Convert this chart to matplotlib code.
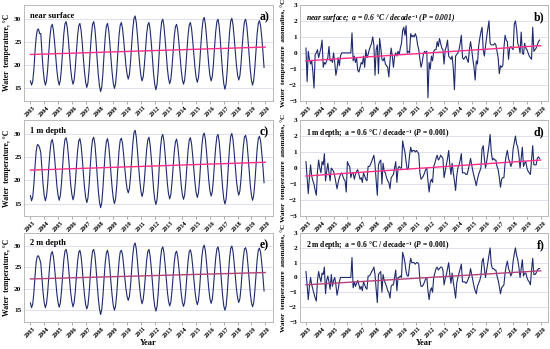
import numpy as np
import matplotlib.pyplot as plt

plt.rcParams['font.family'] = ['Liberation Serif', 'DejaVu Serif']
plt.rcParams['font.weight'] = 'bold'
plt.rcParams['mathtext.fontset'] = 'custom'
plt.rcParams['mathtext.rm'] = 'Liberation Serif:bold'
plt.rcParams['mathtext.it'] = 'Liberation Serif:italic:bold'
plt.rcParams['mathtext.default'] = 'rm'

# monthly values, Jan 2003 .. Dec 2019 (one row per year)
temp_surface = [
    16.6, 15.7, 16.5, 19.0, 23.0, 26.0, 27.6, 27.8, 26.8, 26.8, 22.8, 19.2,  # 2003
    16.8, 15.7, 16.6, 19.2, 22.9, 26.2, 28.3, 28.8, 27.5, 24.9, 21.7, 18.8,  # 2004
    16.8, 15.7, 16.7, 19.4, 23.2, 26.7, 28.9, 29.4, 28.1, 25.4, 22.1, 19.1,  # 2005
    17.0, 15.9, 16.8, 19.4, 23.1, 26.4, 28.5, 29.0, 27.6, 24.9, 21.5, 18.5,  # 2006
    16.3, 15.2, 16.2, 19.0, 23.0, 26.6, 28.8, 29.4, 27.9, 24.9, 21.2, 17.9,  # 2007
    15.5, 14.3, 15.3, 18.3, 22.4, 26.1, 28.4, 29.0, 27.6, 24.8, 21.4, 18.4,  # 2008
    16.1, 15.0, 16.0, 18.8, 22.8, 26.4, 28.6, 29.2, 28.0, 25.5, 22.6, 19.9,  # 2009
    18.0, 17.0, 18.0, 20.7, 24.5, 27.9, 30.1, 30.6, 29.2, 26.4, 23.0, 20.0,  # 2010
    17.7, 16.6, 17.5, 20.0, 23.5, 26.7, 28.7, 29.2, 27.7, 24.9, 21.4, 18.2,  # 2011
    15.9, 14.7, 15.8, 18.8, 23.1, 26.9, 29.3, 29.9, 28.5, 25.7, 22.4, 19.3,  # 2012
    17.1, 16.0, 16.9, 19.5, 23.0, 26.2, 28.3, 28.8, 27.5, 24.9, 21.8, 19.0,  # 2013
    16.9, 15.9, 16.8, 19.5, 23.2, 26.5, 28.7, 29.2, 27.9, 25.3, 22.2, 19.4,  # 2014
    17.3, 16.3, 17.3, 20.1, 24.0, 27.5, 29.7, 30.3, 28.9, 26.2, 22.9, 19.9,  # 2015
    17.7, 16.6, 17.5, 20.2, 23.9, 27.2, 29.4, 29.9, 28.4, 25.4, 21.7, 18.4,  # 2016
    16.0, 14.8, 15.9, 18.9, 23.2, 27.0, 29.5, 30.1, 28.8, 26.1, 22.9, 20.0,  # 2017
    17.9, 16.8, 17.7, 20.3, 24.0, 27.3, 29.4, 29.9, 28.5, 25.6, 22.2, 19.1,  # 2018
    16.8, 15.7, 16.7, 19.5, 23.3, 26.8, 29.0, 29.6, 28.5, 26.0, 23.0, 19.5,  # 2019
]

temp_1m = [
    16.7, 15.6, 16.4, 19.1, 23.0, 26.3, 27.7, 27.6, 27.0, 26.0, 22.6, 19.1,  # 2003
    16.7, 15.6, 16.6, 19.2, 22.9, 26.2, 28.3, 28.8, 27.5, 24.9, 21.7, 18.8,  # 2004
    16.8, 15.7, 16.7, 19.4, 23.2, 26.7, 28.8, 29.2, 28.0, 25.4, 22.1, 19.1,  # 2005
    17.0, 15.8, 16.8, 19.4, 23.1, 26.4, 28.5, 29.0, 27.6, 24.9, 21.5, 18.5,  # 2006
    16.3, 15.2, 16.2, 19.0, 23.0, 26.6, 28.8, 29.3, 27.9, 24.9, 21.1, 17.8,  # 2007
    15.3, 14.1, 15.2, 18.3, 22.4, 26.1, 28.4, 29.0, 27.6, 24.8, 21.4, 18.4,  # 2008
    16.1, 15.0, 16.0, 18.8, 22.8, 26.4, 28.6, 29.1, 28.0, 25.5, 22.6, 20.0,  # 2009
    18.2, 17.3, 18.2, 20.8, 24.6, 28.0, 30.3, 30.8, 29.3, 26.4, 23.0, 20.0,  # 2010
    17.7, 16.5, 17.5, 20.0, 23.5, 26.7, 28.7, 29.3, 27.7, 24.9, 21.4, 18.2,  # 2011
    15.9, 14.8, 15.8, 18.8, 23.1, 26.9, 29.3, 29.9, 28.5, 25.7, 22.4, 19.3,  # 2012
    17.1, 16.0, 16.9, 19.5, 23.0, 26.2, 28.3, 28.9, 27.5, 24.9, 21.8, 19.0,  # 2013
    16.9, 15.9, 16.8, 19.5, 23.2, 26.5, 28.7, 29.2, 27.9, 25.3, 22.2, 19.4,  # 2014
    17.3, 16.3, 17.3, 20.1, 24.0, 27.5, 29.7, 30.2, 28.9, 26.2, 22.9, 19.9,  # 2015
    17.7, 16.6, 17.5, 20.2, 23.9, 27.2, 29.4, 29.9, 28.4, 25.4, 21.7, 18.4,  # 2016
    16.0, 14.9, 15.9, 18.9, 23.2, 27.0, 29.5, 30.1, 28.8, 26.1, 22.9, 20.0,  # 2017
    17.9, 16.8, 17.7, 20.3, 24.0, 27.3, 29.4, 29.7, 28.5, 25.6, 22.2, 19.1,  # 2018
    16.8, 15.7, 16.7, 19.5, 23.3, 26.8, 29.0, 29.5, 28.5, 26.0, 23.0, 19.5,  # 2019
]

temp_2m = [
    16.7, 15.6, 16.4, 19.1, 23.0, 26.3, 27.6, 27.7, 27.0, 26.0, 22.6, 19.1,  # 2003
    16.7, 15.6, 16.6, 19.2, 22.9, 26.2, 28.2, 28.7, 27.5, 24.9, 21.7, 18.8,  # 2004
    16.8, 15.7, 16.7, 19.4, 23.2, 26.7, 28.8, 29.2, 28.0, 25.4, 22.1, 19.1,  # 2005
    17.0, 15.8, 16.8, 19.4, 23.1, 26.4, 28.5, 29.0, 27.6, 24.9, 21.5, 18.5,  # 2006
    16.3, 15.3, 16.2, 19.0, 23.0, 26.6, 28.8, 29.2, 27.9, 24.9, 21.1, 17.8,  # 2007
    15.3, 14.0, 15.2, 18.3, 22.4, 26.1, 28.4, 29.0, 27.6, 24.8, 21.4, 18.4,  # 2008
    16.1, 15.0, 16.0, 18.8, 22.8, 26.4, 28.6, 29.0, 28.0, 25.5, 22.6, 20.0,  # 2009
    18.2, 17.3, 18.2, 20.8, 24.6, 28.0, 30.2, 30.7, 29.3, 26.4, 23.0, 20.0,  # 2010
    17.7, 16.5, 17.5, 20.0, 23.5, 26.7, 28.7, 29.2, 27.7, 24.9, 21.4, 18.2,  # 2011
    15.9, 14.8, 15.8, 18.8, 23.1, 26.9, 29.2, 29.8, 28.5, 25.7, 22.4, 19.3,  # 2012
    17.1, 16.0, 16.9, 19.5, 23.0, 26.2, 28.3, 28.8, 27.5, 24.9, 21.8, 19.0,  # 2013
    16.9, 15.9, 16.8, 19.5, 23.2, 26.5, 28.7, 29.1, 27.9, 25.3, 22.2, 19.4,  # 2014
    17.3, 16.3, 17.3, 20.1, 24.0, 27.5, 29.6, 30.2, 28.9, 26.2, 22.9, 19.9,  # 2015
    17.7, 16.6, 17.5, 20.2, 23.9, 27.2, 29.3, 29.8, 28.4, 25.4, 21.7, 18.4,  # 2016
    16.0, 15.0, 15.9, 18.9, 23.2, 27.0, 29.4, 30.0, 28.8, 26.1, 22.9, 20.0,  # 2017
    17.9, 16.8, 17.7, 20.3, 24.0, 27.3, 29.3, 29.6, 28.5, 25.6, 22.2, 19.1,  # 2018
    16.8, 15.8, 16.7, 19.5, 23.3, 26.8, 29.0, 29.5, 28.5, 26.0, 23.0, 19.5,  # 2019
]

anom_surface = [
    0.3, -1.8, 0.1, -0.4, -0.7, -0.5, -1.2, -2.2, -0.1, 0.0, 0.2, -0.3,  # 2003
    0.0, 0.3, 0.8, -0.9, -0.6, -0.7, -0.5, -0.3, 0.4, -0.5, -0.4, -0.6,  # 2004
    0.0, -0.6, -1.4, -1.0, -0.3, -0.8, -0.2, 0.0, 0.0, 0.0, 0.0, 0.0,  # 2005
    0.0, 0.0, 0.0, 0.0, 1.25, -0.5, -0.2, -0.6, -0.3, -1.1, -1.2, -0.9,  # 2006
    -0.6, -0.7, -0.2, -0.9, 0.2, -0.3, -0.1, 0.2, 0.4, 0.6, 1.0, 0.5,  # 2007
    -1.4, 0.2, 0.5, -1.3, 0.9, 0.3, -0.4, -0.5, -0.3, -0.7, -0.8, -0.9,  # 2008
    -1.5, -0.5, 0.3, -0.2, -0.9, -0.2, 0.0, -0.2, 0.1, -0.1, 0.3, 0.6,  # 2009
    1.4, 1.6, 1.1, 1.7, 0.0, 0.1, 0.0, 1.2, 1.0, 1.1, 1.0, 1.2,  # 2010
    1.0, 0.5, 0.2, -0.4, -0.9, -0.6, -0.1, 0.1, 0.0, 0.1, -2.8, -0.6,  # 2011
    -1.0, -0.2, -0.5, 0.1, 0.2, 0.2, 0.7, 0.4, 0.9, 0.6, 0.3, 0.2,  # 2012
    -0.7, 0.2, 0.4, 0.8, -0.2, -0.3, -0.4, -0.2, -1.0, -2.3, -0.2, -0.1,  # 2013
    0.0, 0.2, 0.6, 1.1, -0.3, -0.4, -0.3, -0.2, -0.4, -0.6, 0.2, 0.7,  # 2014
    0.2, -0.4, -0.9, -1.7, -0.5, -0.7, 0.4, 0.9, 1.3, 1.6, 0.2, -0.2,  # 2015
    0.4, 1.0, 1.5, 2.0, 0.6, 0.5, 0.5, 0.5, 0.6, 0.5, 0.1, -0.3,  # 2016
    -1.3, -0.8, -0.9, -0.8, 0.3, 1.1, 0.8, 0.7, -0.4, 0.3, 0.4, 0.3,  # 2017
    0.2, 1.8, 2.0, 1.5, 0.6, 0.4, 0.0, 1.3, 0.0, -0.1, 0.6, 0.3,  # 2018
    0.2, 0.0, -0.2, -0.3, -0.4, 1.6, 0.1, 0.2, 0.3, 0.5, 0.7, 0.8,  # 2019
]

anom_1m = [
    0.4, -0.6, -1.6, -0.6, 0.2, -0.5, -0.8, -1.0, -1.4, -1.7, -0.2, 0.5,  # 2003
    0.0, -0.3, 0.4, 0.2, 0.9, -0.8, -0.2, 0.3, -0.3, -0.8, 0.0, -0.1,  # 2004
    -0.2, -0.5, -0.9, -1.3, -0.9, -0.6, -0.4, -0.3, -0.5, -0.7, -0.8, -1.5,  # 2005
    0.4, 0.2, 0.1, -0.6, -0.3, -0.3, -0.7, -0.4, -0.2, -0.1, -0.4, -0.7,  # 2006
    -0.6, -0.9, -0.3, -0.5, -0.7, -0.8, 0.1, 0.1, 0.2, 0.4, 0.6, 0.8,  # 2007
    0.2, -0.8, -1.7, 0.2, 0.4, 0.5, -1.0, 0.3, -0.2, -0.3, -0.6, -0.8,  # 2008
    -0.9, -1.3, -0.6, -0.5, -0.4, 0.0, 0.4, -0.9, 0.0, 0.1, 0.0, 0.0,  # 2009
    1.7, 1.3, 1.0, 0.4, -0.1, 0.0, 0.8, 1.3, 1.0, 1.1, 1.1, 1.0,  # 2010
    1.1, 1.0, 0.9, -0.3, -0.7, -0.6, -0.5, -0.3, -0.1, 0.0, -0.8, -1.5,  # 2011
    -0.9, -0.7, -0.9, 0.1, 0.3, 0.6, 0.8, 0.5, 0.6, 0.8, 0.7, 0.6,  # 2012
    -0.6, -0.2, 0.2, 0.6, 1.1, 0.2, -0.4, 0.3, -0.3, -0.8, -1.4, -0.5,  # 2013
    0.0, 0.2, 0.5, 0.9, -0.3, -0.3, -0.3, -0.4, -0.4, -0.1, 0.2, 0.6,  # 2014
    0.2, -0.2, -0.5, -0.8, -1.1, -0.7, -0.4, -0.2, 0.0, 1.2, 1.4, 0.6,  # 2015
    0.0, 0.4, 0.9, 1.4, 2.1, 1.0, 0.5, 0.6, 0.5, 0.5, 0.1, -0.1,  # 2016
    -0.6, -1.2, -0.7, -0.6, -0.6, 0.3, 0.8, 1.1, 0.6, 0.4, 0.1, 0.3,  # 2017
    1.2, 1.6, 2.0, 1.5, 1.3, 0.8, 0.0, 0.6, 1.3, 0.1, 0.3, 0.4,  # 2018
    0.0, -0.2, -0.3, -0.4, 0.5, 1.4, 0.2, 0.2, 0.2, 0.6, 0.7, 0.6,  # 2019
]

anom_2m = [
    0.4, -0.5, -1.5, -0.6, 0.0, -0.5, -0.8, -1.1, -1.4, -1.6, -0.2, 0.4,  # 2003
    0.0, -0.3, 0.3, 0.2, 0.7, -1.1, -0.2, 0.1, -0.3, -0.8, 0.2, -0.6,  # 2004
    -0.2, 0.0, -0.5, -1.2, -0.8, -0.3, 0.0, 0.0, 0.0, 0.0, 0.0, 0.0,  # 2005
    0.0, 0.0, 0.0, 0.0, 1.35, -0.7, -0.3, -0.6, -0.4, -0.2, -0.5, -0.8,  # 2006
    -0.6, -0.9, -0.3, -0.5, -0.7, -0.8, 0.1, 0.1, 0.2, 0.4, 0.5, 0.7,  # 2007
    0.2, -0.8, -1.7, 0.2, 0.3, 0.4, -1.0, 0.2, -0.2, -0.4, -0.6, -0.9,  # 2008
    -1.0, -1.4, -0.6, -0.5, -0.5, 0.0, 0.5, -0.9, 0.0, 0.0, 0.1, 0.0,  # 2009
    1.7, 1.4, 1.0, 0.4, 0.1, 0.1, 0.8, 1.3, 1.0, 1.0, 1.0, 0.9,  # 2010
    1.0, 1.0, 0.9, -0.2, -0.6, -0.6, -0.5, -0.3, -0.1, 0.0, -0.9, -1.5,  # 2011
    -0.9, -0.7, -1.0, 0.0, 0.3, 0.6, 0.7, 0.5, 0.6, 0.7, 0.7, 0.5,  # 2012
    -0.5, -0.1, 0.2, 0.6, 1.0, 0.2, -0.4, 0.3, -0.3, -0.8, -1.4, -0.4,  # 2013
    0.0, 0.3, 0.6, 0.9, -0.3, -0.3, -0.3, -0.4, -0.3, -0.1, 0.1, 0.6,  # 2014
    0.2, -0.2, -0.6, -0.9, -1.1, -0.6, -0.4, -0.2, 0.1, 1.1, 1.3, 0.6,  # 2015
    0.0, 0.5, 1.0, 1.5, 2.0, 0.9, 0.6, 0.6, 0.5, 0.5, 0.1, -0.2,  # 2016
    -0.6, -1.1, -0.7, -0.6, -0.5, 0.3, 0.8, 1.1, 0.6, 0.4, 0.1, 0.3,  # 2017
    1.1, 1.6, 2.0, 1.5, 1.2, 0.7, 0.0, 0.6, 1.2, 0.1, 0.3, 0.3,  # 2018
    0.0, -0.2, -0.3, -0.5, 0.5, 1.3, 0.2, 0.2, 0.3, 0.5, 0.6, 0.6,  # 2019
]

# linear trend end values (2003, 2020)
trend_temp = [(22.3, 23.9), (22.2, 23.9), (22.3, 23.8)]
trend_anom = [(-0.5, 0.45), (-0.5, 0.5), (-0.5, 0.45)]

depth_names = ['near surface', '1 m depth', '2 m depth']
temp_labels = ['a)', 'c)', 'e)']
anom_labels = ['b)', 'd)', 'f)']
years = list(range(2003, 2021))

line_color = '#1f2a6e'
trend_colors = ['#ff2d8a', '#ff2d8a', '#b4407c']

x = 2003 + np.arange(len(temp_surface)) / 12.0

fig = plt.figure(figsize=(5.5, 3.49), dpi=100)

rows = [(0.711, 0.275), (0.381, 0.275), (0.078, 0.254)]
lefts = [0.044, 0.545]
width = 0.452

temps = [temp_surface, temp_1m, temp_2m]
anoms = [anom_surface, anom_1m, anom_2m]


def style_axis(ax, show_year):
    ax.set_xlim(2002.55, 2020.55)
    ax.set_xticks(years)
    ax.set_xticklabels([str(y) for y in years], rotation=45, fontsize=4.5,
                       fontweight='bold')
    ax.tick_params(axis='x', length=2, width=0.5, pad=1, color='#888888')
    ax.tick_params(axis='y', length=0, labelsize=5.2, pad=2)
    for lab in ax.get_yticklabels():
        lab.set_fontweight('bold')
    ax.grid(axis='y', color='#d9d9ee', linewidth=0.6)
    ax.set_axisbelow(True)
    for sp in ax.spines.values():
        sp.set_color('#b0b0b0')
        sp.set_linewidth(0.6)
    if show_year:
        ax.set_xlabel('Year', fontsize=6, fontweight='bold', va='center')
        ax.xaxis.set_label_coords(0.5, -0.245)


for i, (bottom, height) in enumerate(rows):
    # left column: water temperature
    ax = fig.add_axes([lefts[0], bottom, width, height])
    ax.plot(x, temps[i], color=line_color, linewidth=0.8)
    ax.plot([2003, 2020], trend_temp[i], color=trend_colors[i], linewidth=1.0)
    ax.set_ylim(12.3, 33.0)
    ax.set_yticks([15, 20, 25, 30])
    ax.set_ylabel('Water  temperature, °C', fontsize=5.5, fontweight='bold',
                  labelpad=2)
    style_axis(ax, i == 2)
    ax.text(0.025, 0.93, depth_names[i], transform=ax.transAxes,
            fontsize=6, fontweight='bold', va='top')
    ax.text(0.985, 0.93, temp_labels[i], transform=ax.transAxes,
            fontsize=8.5, fontweight='bold', va='top', ha='right')

    # right column: anomalies
    ax = fig.add_axes([lefts[1], bottom, width, height])
    ax.plot(x, anoms[i], color=line_color, linewidth=0.8)
    ax.plot([2003, 2020], trend_anom[i], color=trend_colors[i], linewidth=1.0)
    ax.set_ylim(-3, 3)
    ax.set_yticks([-3, -2, -1, 0, 1, 2, 3])
    ax.set_ylabel('Water  temperature  anomalies, °C', fontsize=5.2,
                  fontweight='bold', labelpad=2)
    style_axis(ax, i == 2)
    note = depth_names[i] + ';  a = 0.6 °C / decade$^{-1}$ ($\\mathit{P}$ = 0.001)'
    ax.text(0.025, 0.93, note, transform=ax.transAxes, fontsize=5.5,
            fontweight='bold', fontstyle='italic' if i == 0 else 'normal',
            va='top')
    ax.text(0.985, 0.93, anom_labels[i], transform=ax.transAxes,
            fontsize=8.5, fontweight='bold', va='top', ha='right')

fig.savefig('out.png', dpi=100)
